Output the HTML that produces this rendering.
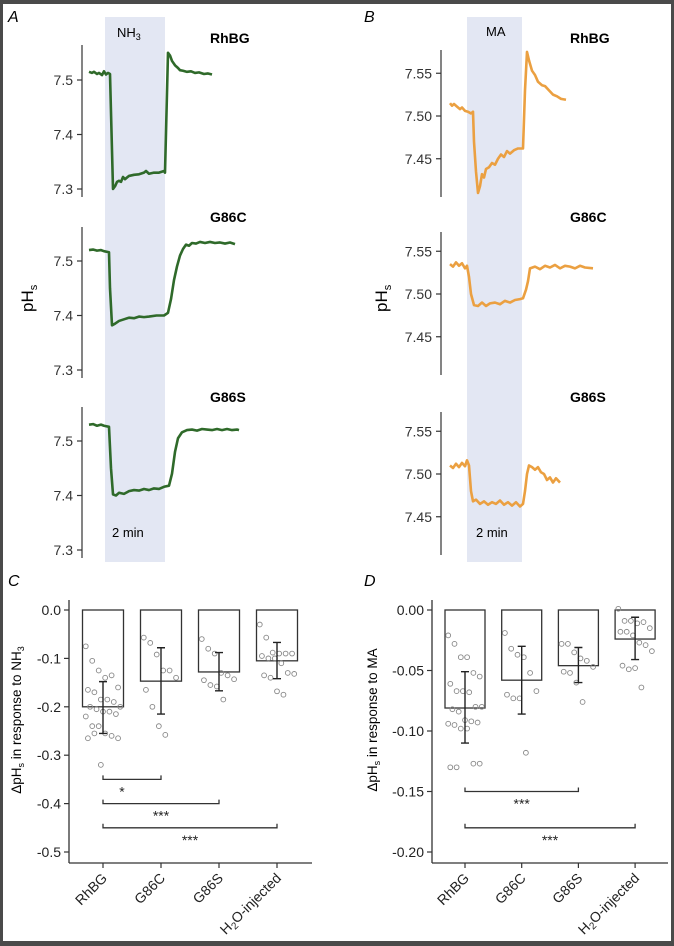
<!DOCTYPE html>
<html><head><meta charset="utf-8"><style>
html,body{margin:0;padding:0;background:#fff}
svg{display:block;font-family:"Liberation Sans",Arial,sans-serif}
</style></head><body>
<svg id="s" width="674" height="946" viewBox="0 0 674 946" xmlns="http://www.w3.org/2000/svg">
<rect x="0" y="0" width="674" height="946" fill="#4a4a4a"/>
<rect x="3" y="4" width="668" height="937" fill="#fff"/>
</svg>
<script>
// ---- Trace data: [time (s), pH] ----
const traceA_RhBG=[[0,7.515],[6,7.513],[10,7.515],[16,7.511],[20,7.513],[26,7.509],[30,7.516],[34,7.51],[38,7.513],[42,7.511],[48,7.30],[52,7.305],[56,7.313],[60,7.315],[64,7.313],[68,7.322],[72,7.318],[80,7.324],[90,7.326],[100,7.327],[110,7.33],[114,7.333],[120,7.328],[130,7.33],[140,7.33],[150,7.333],[152,7.33],[158,7.55],[162,7.545],[166,7.535],[172,7.527],[178,7.522],[182,7.518],[188,7.517],[196,7.515],[204,7.516],[212,7.513],[220,7.514],[230,7.511],[238,7.512],[246,7.51]];
const traceA_G86C=[[0,7.52],[8,7.521],[16,7.519],[24,7.52],[30,7.518],[40,7.516],[42,7.45],[46,7.382],[52,7.385],[60,7.39],[70,7.393],[80,7.396],[90,7.395],[100,7.398],[110,7.397],[120,7.398],[135,7.4],[150,7.40],[158,7.405],[164,7.43],[170,7.465],[176,7.49],[182,7.51],[188,7.522],[194,7.53],[200,7.528],[206,7.533],[214,7.532],[222,7.535],[232,7.533],[242,7.535],[252,7.533],[262,7.534],[272,7.532],[282,7.534],[292,7.531]];
const traceA_G86S=[[0,7.53],[8,7.531],[16,7.528],[24,7.53],[30,7.528],[40,7.526],[44,7.45],[48,7.402],[54,7.4],[60,7.405],[70,7.403],[80,7.408],[90,7.41],[100,7.409],[110,7.412],[120,7.41],[130,7.413],[140,7.412],[150,7.416],[160,7.418],[166,7.44],[172,7.48],[178,7.505],[186,7.516],[196,7.52],[206,7.521],[216,7.519],[226,7.522],[236,7.521],[246,7.52],[256,7.522],[266,7.52],[276,7.522],[286,7.52],[296,7.521],[300,7.52]];
const traceB_RhBG=[[0,7.515],[4,7.512],[8,7.514],[14,7.511],[20,7.508],[24,7.51],[30,7.506],[36,7.505],[42,7.503],[46,7.505],[48,7.47],[52,7.435],[56,7.41],[60,7.418],[64,7.432],[68,7.428],[72,7.438],[78,7.44],[84,7.445],[90,7.443],[96,7.45],[102,7.455],[108,7.452],[114,7.459],[120,7.456],[128,7.46],[136,7.462],[146,7.462],[150,7.53],[154,7.575],[158,7.565],[164,7.553],[170,7.548],[176,7.54],[184,7.536],[190,7.535],[198,7.53],[206,7.525],[214,7.523],[222,7.52],[232,7.519]];
const traceB_G86C=[[0,7.535],[6,7.532],[12,7.537],[18,7.533],[24,7.536],[30,7.53],[34,7.533],[38,7.52],[42,7.5],[48,7.487],[56,7.486],[64,7.49],[72,7.486],[80,7.489],[90,7.49],[100,7.488],[110,7.492],[120,7.49],[130,7.493],[140,7.494],[146,7.495],[152,7.505],[156,7.515],[160,7.53],[170,7.532],[180,7.529],[190,7.533],[200,7.531],[210,7.534],[220,7.53],[230,7.533],[240,7.532],[250,7.53],[260,7.533],[270,7.531],[286,7.53]];
const traceB_G86S=[[0,7.51],[6,7.507],[12,7.512],[18,7.508],[24,7.513],[30,7.509],[34,7.516],[38,7.51],[42,7.48],[46,7.468],[52,7.47],[60,7.465],[68,7.468],[76,7.464],[84,7.467],[92,7.465],[100,7.469],[108,7.464],[116,7.467],[124,7.463],[132,7.467],[140,7.462],[146,7.465],[150,7.48],[154,7.5],[158,7.51],[164,7.508],[170,7.505],[176,7.508],[182,7.502],[188,7.5],[194,7.493],[200,7.496],[206,7.49],[212,7.495],[220,7.49]];
// ---- Bar chart data ----
const categories=["RhBG","G86C","G86S","H2O-injected"];
const nh3Means=[-0.200,-0.147,-0.128,-0.105];
const nh3ErrHi=[-0.148,-0.078,-0.088,-0.067];
const nh3ErrLo=[-0.255,-0.215,-0.167,-0.142];
const nh3Pts=[
[-0.075,-0.105,-0.125,-0.14,-0.135,-0.16,-0.165,-0.17,-0.185,-0.185,-0.19,-0.2,-0.2,-0.205,-0.21,-0.21,-0.215,-0.22,-0.24,-0.24,-0.255,-0.26,-0.265,-0.265,-0.255,-0.32],
[-0.057,-0.068,-0.092,-0.125,-0.125,-0.14,-0.165,-0.2,-0.24,-0.258],
[-0.06,-0.08,-0.09,-0.13,-0.135,-0.143,-0.145,-0.155,-0.158,-0.185],
[-0.03,-0.057,-0.088,-0.09,-0.09,-0.09,-0.095,-0.1,-0.1,-0.11,-0.13,-0.132,-0.135,-0.14,-0.168,-0.175]];
const maMeans=[-0.081,-0.058,-0.046,-0.024];
const maErrHi=[-0.051,-0.030,-0.031,-0.006];
const maErrLo=[-0.110,-0.086,-0.060,-0.041];
const maPts=[
[-0.021,-0.028,-0.039,-0.039,-0.052,-0.055,-0.061,-0.067,-0.067,-0.068,-0.08,-0.08,-0.082,-0.084,-0.091,-0.092,-0.093,-0.094,-0.095,-0.098,-0.098,-0.127,-0.127,-0.13,-0.13],
[-0.019,-0.032,-0.037,-0.039,-0.052,-0.067,-0.07,-0.073,-0.073,-0.118],
[-0.028,-0.028,-0.035,-0.04,-0.042,-0.047,-0.051,-0.052,-0.06,-0.076],
[0.001,-0.009,-0.009,-0.011,-0.01,-0.015,-0.018,-0.018,-0.021,-0.027,-0.029,-0.034,-0.046,-0.049,-0.048,-0.064]];
const nh3Ticks=[0,-0.1,-0.2,-0.3,-0.4,-0.5];
const maTicks=[0,-0.05,-0.10,-0.15,-0.20];
const nh3Sig=[[0,1,-0.35,"*"],[0,2,-0.40,"***"],[0,3,-0.45,"***"]];
const maSig=[[0,2,-0.15,"***"],[0,3,-0.18,"***"]];

const S=document.getElementById('s');const NS="http://www.w3.org/2000/svg";
function mk(t,a,txt){const e=document.createElementNS(NS,t);for(const k in a)e.setAttribute(k,a[k]);if(txt!==undefined)e.textContent=txt;S.appendChild(e);return e;}

let r=mk('rect',{x:105,y:17,width:60,height:545,fill:'#e3e7f3'});


r=mk('rect',{x:467,y:17,width:55,height:545,fill:'#e3e7f3'});



let t;
t=mk('text',{x:8,y:22,'font-size':16,'font-style':'italic'},'A');
t=mk('text',{x:364,y:22,'font-size':16,'font-style':'italic'},'B');
t=mk('text',{x:117,y:37,'font-size':13});t.innerHTML='NH<tspan font-size="9" dy="3">3</tspan>';
t=mk('text',{x:486,y:36,'font-size':13},'MA');
t=mk('text',{x:112,y:537,'font-size':13},'2 min');
t=mk('text',{x:476,y:537,'font-size':13},'2 min');
t=mk('text',{x:0,y:0,'font-size':17,transform:'translate(33,312) rotate(-90)'});t.innerHTML='pH<tspan font-size="11" dy="4">s</tspan>';
t=mk('text',{x:0,y:0,'font-size':17,transform:'translate(387,312) rotate(-90)'});t.innerHTML='pH<tspan font-size="11" dy="4">s</tspan>';

function trace(data,opt){
  const y=v=>opt.refY-(v-opt.ref)*opt.ppu;
  const x=s=>opt.x0+s*opt.pxs;
  let a=mk('line',{x1:opt.axisX,x2:opt.axisX,y1:opt.yTop,y2:opt.yBot,stroke:'#333','stroke-width':1.2});
  
  opt.ticks.forEach(v=>{
    const tk=mk('line',{x1:opt.axisX-5,x2:opt.axisX,y1:y(v),y2:y(v),stroke:'#333','stroke-width':1.2});
    
    const tl=mk('text',{x:opt.axisX-9,y:y(v)+5,'font-size':14,'text-anchor':'end',fill:'#333'},v.toFixed(opt.fmt));
    
  });
  const p=mk('polyline',{points:data.map(d=>x(d[0])+','+y(d[1])).join(' '),fill:'none',stroke:opt.color,'stroke-width':2.6,'stroke-linejoin':'round'});
  
  const l=mk('text',{x:opt.lx,y:opt.ly,'font-size':14,'font-weight':'bold'},opt.label);
  
}
const G='#2f6a2a',O='#eba041';
trace(traceA_RhBG,{axisX:82,x0:89,pxs:0.5,ref:7.5,refY:80,ppu:545,yTop:45,yBot:197,ticks:[7.5,7.4,7.3],fmt:1,color:G,label:'RhBG',lx:210,ly:43,name:'a-rhbg'});
trace(traceA_G86C,{axisX:82,x0:89,pxs:0.5,ref:7.5,refY:261,ppu:545,yTop:227,yBot:378,ticks:[7.5,7.4,7.3],fmt:1,color:G,label:'G86C',lx:210,ly:222,name:'a-g86c'});
trace(traceA_G86S,{axisX:82,x0:89,pxs:0.5,ref:7.5,refY:441,ppu:545,yTop:407,yBot:558,ticks:[7.5,7.4,7.3],fmt:1,color:G,label:'G86S',lx:210,ly:402,name:'a-g86s'});
trace(traceB_RhBG,{axisX:441,x0:450,pxs:0.5,ref:7.5,refY:116,ppu:855,yTop:50,yBot:197,ticks:[7.55,7.5,7.45],fmt:2,color:O,label:'RhBG',lx:570,ly:43,name:'b-rhbg'});
trace(traceB_G86C,{axisX:441,x0:450,pxs:0.5,ref:7.5,refY:294,ppu:855,yTop:232,yBot:375,ticks:[7.55,7.5,7.45],fmt:2,color:O,label:'G86C',lx:570,ly:222,name:'b-g86c'});
trace(traceB_G86S,{axisX:441,x0:450,pxs:0.5,ref:7.5,refY:474,ppu:855,yTop:412,yBot:555,ticks:[7.55,7.5,7.45],fmt:2,color:O,label:'G86S',lx:570,ly:402,name:'b-g86s'});

function bars(o){
  const Y=v=>o.y0+(-v)*o.ppu;
  const X=i=>o.cx0+i*o.step;
  let e=mk('line',{x1:o.ax,x2:o.ax,y1:o.yTop,y2:o.yBot,stroke:'#333','stroke-width':1.3});
  e=mk('line',{x1:o.ax,x2:o.xEnd,y1:o.yBot,y2:o.yBot,stroke:'#333','stroke-width':1.3});
  o.ticks.forEach(v=>{
    const tk=mk('line',{x1:o.ax-5,x2:o.ax,y1:Y(v),y2:Y(v),stroke:'#333','stroke-width':1.2});
    const s=(v===0?(o.fmt===1?'0.0':'0.00'):v.toFixed(o.fmt));
    const tl=mk('text',{x:o.ax-8,y:Y(v)+5,'font-size':14,'text-anchor':'end',fill:'#222'},s);
  });
  categories.forEach((c,i)=>{
    const cx=X(i);
    const b=mk('rect',{x:cx-o.bw/2,y:Y(0),width:o.bw,height:Y(o.means[i])-Y(0),fill:'none',stroke:'#333','stroke-width':1.3});
    
    o.pts[i].forEach((v,j)=>{
      const jx=((j*37)%17-8)/8*o.bw*0.42;
      const d=mk('circle',{cx:cx+jx,cy:Y(v),r:2.4,fill:'none',stroke:'#888','stroke-width':0.9});
      
    });
    const eb=mk('path',{d:`M${cx},${Y(o.hi[i])}V${Y(o.lo[i])}M${cx-4},${Y(o.hi[i])}H${cx+4}M${cx-4},${Y(o.lo[i])}H${cx+4}`,stroke:'#222','stroke-width':1.4,fill:'none'});
    
    const xt=mk('line',{x1:cx,x2:cx,y1:o.yBot,y2:o.yBot+5,stroke:'#333','stroke-width':1.2});
    const lb=mk('text',{x:0,y:0,'font-size':14,'text-anchor':'end',fill:'#222',transform:`translate(${cx+5},${o.yBot+16}) rotate(-45)`});
    if(c==='H2O-injected')lb.innerHTML='H<tspan font-size="10" dy="3">2</tspan><tspan dy="-3">O-injected</tspan>';else lb.textContent=c;
    
  });
  o.sig.forEach(s=>{
    const x1=X(s[0]),x2=X(s[1]),yy=Y(s[2]);
    const p=mk('path',{d:`M${x1},${yy-4}V${yy}H${x2}V${yy-4}`,stroke:'#333','stroke-width':1.3,fill:'none'});
    
    const st=mk('text',{x:(x1+x2)/2-(s[1]===1?10:0),y:yy+17,'font-size':14,'text-anchor':'middle',fill:'#222'},s[3]);
    
  });
}
t=mk('text',{x:8,y:586,'font-size':16,'font-style':'italic'},'C');
t=mk('text',{x:364,y:586,'font-size':16,'font-style':'italic'},'D');
t=mk('text',{x:0,y:0,'font-size':13.5,'text-anchor':'middle',transform:'translate(21,720) rotate(-90)'});t.innerHTML='ΔpH<tspan font-size="9" dy="3">s</tspan><tspan dy="-3"> in response to NH</tspan><tspan font-size="9" dy="3">3</tspan>';
t=mk('text',{x:0,y:0,'font-size':13.5,'text-anchor':'middle',transform:'translate(377,720) rotate(-90)'});t.innerHTML='ΔpH<tspan font-size="9" dy="3">s</tspan><tspan dy="-3"> in response to MA</tspan>';
bars({name:'c',ax:69,xEnd:312,yTop:600,yBot:863,y0:610,ppu:484,cx0:103,step:58,bw:41,ticks:nh3Ticks,fmt:1,means:nh3Means,hi:nh3ErrHi,lo:nh3ErrLo,pts:nh3Pts,sig:nh3Sig});
bars({name:'d',ax:432,xEnd:668,yTop:600,yBot:863,y0:610,ppu:1210,cx0:465,step:56.7,bw:40,ticks:maTicks,fmt:2,means:maMeans,hi:maErrHi,lo:maErrLo,pts:maPts,sig:maSig});
</script>
</body></html>
